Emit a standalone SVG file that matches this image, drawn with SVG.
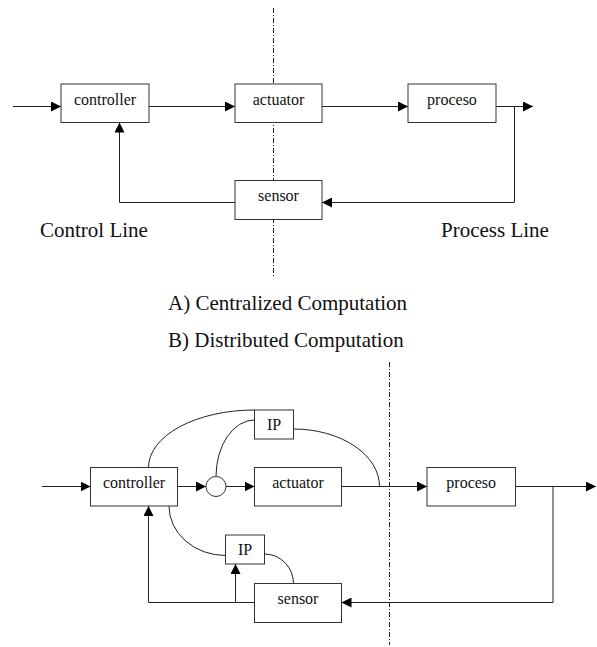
<svg xmlns="http://www.w3.org/2000/svg" width="597" height="647" viewBox="0 0 597 647">
  <style>
    .box { fill: #ffffff; stroke: #333333; stroke-width: 1; }
    .lbl { font-size: 16px; fill: #111111; text-anchor: middle; }
    .cap { font-size: 21px; fill: #111111; }
    .wire { fill: none; stroke: #222222; stroke-width: 1; }
    .arrow { marker-end: url(#head); }
    .divider { fill: none; stroke: #222222; stroke-width: 1; stroke-dasharray: 5 2 1 2; }
  </style>
  <defs>
    <marker id="head" markerUnits="userSpaceOnUse" markerWidth="10" markerHeight="10" refX="10" refY="5" orient="auto">
      <path d="M0,0 L10,5 L0,10 z" fill="#000000"/>
    </marker>
  </defs>

  <rect width="597" height="647" fill="#ffffff"/>

  <!-- boundary between control side and process side -->
  <g id="dividers">
    <line class="divider" x1="273.5" y1="8" x2="273.5" y2="278"/>
    <line class="divider" x1="389.5" y1="362" x2="389.5" y2="645"/>
  </g>

  <g font-family="'Liberation Serif', 'Times New Roman', serif">

  <!-- A) centralized loop -->
  <g id="a-connectors">
    <line class="wire arrow" x1="13" y1="106.5" x2="61" y2="106.5"/>
    <line class="wire arrow" x1="149" y1="106.5" x2="235" y2="106.5"/>
    <line class="wire arrow" x1="322" y1="106.5" x2="408" y2="106.5"/>
    <line class="wire arrow" x1="496" y1="106.5" x2="533" y2="106.5"/>
    <polyline class="wire arrow" points="514.5,106.5 514.5,202.5 322,202.5"/>
    <polyline class="wire arrow" points="235,202.5 119.5,202.5 119.5,122.5"/>
  </g>

  <g id="a-controller">
    <rect class="box" x="61" y="84" width="88" height="38.5"/>
    <text class="lbl" x="105" y="104.5">controller</text>
  </g>
  <g id="a-actuator">
    <rect class="box" x="235" y="84" width="87" height="38.5"/>
    <text class="lbl" x="278.5" y="104.5">actuator</text>
  </g>
  <g id="a-proceso">
    <rect class="box" x="408" y="84" width="88" height="38.5"/>
    <text class="lbl" x="452" y="104.5">proceso</text>
  </g>
  <g id="a-sensor">
    <rect class="box" x="235" y="180.5" width="87" height="39"/>
    <text class="lbl" x="278.5" y="200.5">sensor</text>
  </g>

  <g id="captions">
    <text class="cap" x="40" y="237">Control Line</text>
    <text class="cap" x="441" y="237">Process Line</text>
    <text class="cap" x="168" y="310">A) Centralized Computation</text>
    <text class="cap" x="168" y="347">B) Distributed Computation</text>
  </g>

  <!-- B) distributed loop -->
  <g id="b-connectors">
    <line class="wire arrow" x1="42" y1="486.5" x2="90.5" y2="486.5"/>
    <line class="wire arrow" x1="177.5" y1="486.5" x2="206" y2="486.5"/>
    <line class="wire arrow" x1="226" y1="486.5" x2="254.5" y2="486.5"/>
    <line class="wire arrow" x1="341.5" y1="486.5" x2="427" y2="486.5"/>
    <line class="wire arrow" x1="515.5" y1="486.5" x2="596" y2="486.5"/>
    <polyline class="wire arrow" points="553,486.5 553,602.5 341.5,602.5"/>
    <polyline class="wire arrow" points="254.5,602.5 148.5,602.5 148.5,506"/>
    <line class="wire arrow" x1="235.5" y1="602.5" x2="235.5" y2="564"/>
    <!-- links to and from the interface processors -->
    <path class="wire" d="M148.5,467.5 A106,57.5 0 0 1 254.5,410"/>
    <path class="wire" d="M216,476.5 A38.5,56.5 0 0 1 254.5,420"/>
    <path class="wire" d="M293.5,429 A86,57.5 0 0 1 379.5,486.5"/>
    <path class="wire" d="M169,506 A56.5,49.5 0 0 0 225.5,555.5"/>
    <path class="wire" d="M264.5,554 A29,29.5 0 0 1 293.5,583.5"/>
  </g>

  <g id="b-controller">
    <rect class="box" x="90.5" y="467.5" width="87" height="38.5"/>
    <text class="lbl" x="134" y="488">controller</text>
  </g>
  <g id="b-junction">
    <circle class="box" cx="216" cy="486.5" r="10"/>
  </g>
  <g id="b-actuator">
    <rect class="box" x="254.5" y="467.5" width="87" height="38.5"/>
    <text class="lbl" x="298" y="488">actuator</text>
  </g>
  <g id="b-proceso">
    <rect class="box" x="427" y="467.5" width="88.5" height="38.5"/>
    <text class="lbl" x="471.2" y="488">proceso</text>
  </g>
  <g id="b-sensor">
    <rect class="box" x="254.5" y="583.5" width="87" height="39"/>
    <text class="lbl" x="298" y="603.5">sensor</text>
  </g>
  <g id="b-ip-upper">
    <rect class="box" x="254.5" y="410" width="39" height="29"/>
    <text class="lbl" x="274" y="430">IP</text>
  </g>
  <g id="b-ip-lower">
    <rect class="box" x="225.5" y="535" width="39" height="29"/>
    <text class="lbl" x="245" y="555">IP</text>
  </g>

  </g>
</svg>
